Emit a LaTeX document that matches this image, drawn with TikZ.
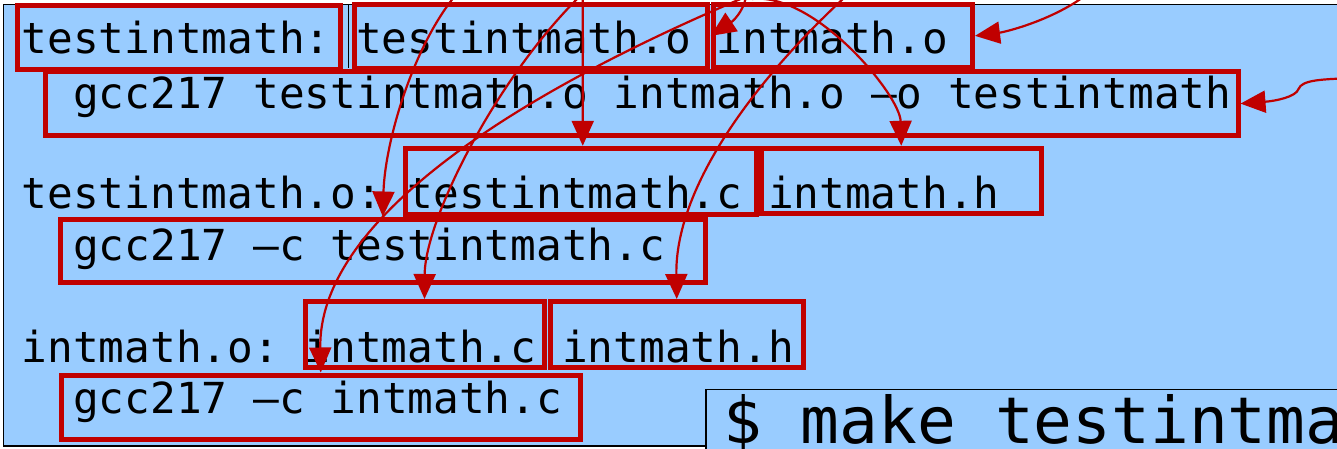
\documentclass[tikz,border=0pt]{standalone}
\usepackage{fontspec}
\newfontfamily\monofont{DejaVu Sans Mono}
\usetikzlibrary{arrows.meta,calc}
\definecolor{slideblue}{RGB}{153,204,255}
\definecolor{boxred}{RGB}{192,0,0}
\frenchspacing
\begin{document}
\begin{tikzpicture}[x=1pt,y=-1pt,
  redbox/.style={draw=boxred, line width=5pt, inner sep=0pt, outer sep=2.5pt},
  codetext/.style={inner sep=0pt, anchor=base west, font=\monofont\fontsize{42.75}{50}\selectfont},
  bigtext/.style={inner sep=0pt, anchor=base west, font=\monofont\fontsize{64.5}{70}\selectfont},
  arr/.style={draw=boxred, line width=2.2pt, -{Triangle[length=25pt,width=22pt]}}]
\useasboundingbox (0,0) rectangle (1337,448);
\fill[white] (0,0) rectangle (1337,448);
\clip (0,0) rectangle (1337,448);
% slide panel
\filldraw[fill=slideblue, draw=black, line width=1.2pt] (3.5,4.5) rectangle (1360,446);
\draw[black, line width=0.8pt] (348.5,5) -- (348.5,68);
% terminal box
\filldraw[fill=slideblue, draw=black, line width=1.2pt] (706,389.3) rectangle (1360,470);
\node[bigtext] (mk) at (723,443) {\$ make testintma};
% makefile text
\node[codetext] (r1) at (21.5,53.5) {testintmath: testintmath.o intmath.o};
\node[codetext] (r2) at (73,108.3) {gcc217 testintmath.o intmath.o –o testintmath};
\node[codetext] (r3) at (21.5,208.3) {testintmath.o: testintmath.c intmath.h};
\node[codetext] (r4) at (73,260) {gcc217 –c testintmath.c};
\node[codetext] (r5) at (21.5,362.7) {intmath.o: intmath.c intmath.h};
\node[codetext] (r6) at (73,413.3) {gcc217 –c intmath.c};
% red boxes
\node[redbox, minimum width=323.3pt, minimum height=63.4pt] (b1) at (179.15,37.5) {};
\node[redbox, minimum width=353.3pt, minimum height=64.6pt] (b2) at (530.85,36.5) {};
\node[redbox, minimum width=259.2pt, minimum height=63.3pt] (b3) at (842.9,35.85) {};
\node[redbox, minimum width=1192.3pt, minimum height=63.8pt] (b4) at (641.85,103.6) {};
\node[redbox, minimum width=351.5pt, minimum height=65.7pt] (b5) at (580.75,181.15) {};
\node[redbox, minimum width=279.5pt, minimum height=64.7pt] (b6) at (901.25,180.65) {};
\node[redbox, minimum width=644.5pt, minimum height=63pt] (b7) at (382.75,250.5) {};
\node[redbox, minimum width=239pt, minimum height=65.5pt] (b8) at (424.5,334.25) {};
\node[redbox, minimum width=252.5pt, minimum height=65.5pt] (b9) at (676.75,334.25) {};
\node[redbox, minimum width=519.5pt, minimum height=64pt] (b10) at (320.75,407) {};
% free ends above the visible region
\coordinate (s1) at (582.7,-10);
\coordinate (s2) at (460,-10);
\coordinate (s3) at (580,-4);
\coordinate (s4) at (845,-3);
\coordinate (s5) at (750,-5);
\coordinate (s6) at (752,-1);
\coordinate (s7) at (1090,-8);
\coordinate (s8) at (1360,78);
\coordinate (s9) at (746,-6);
% connectors
\draw[arr] (s1) -- ([xshift=2pt]b5.north);
\draw[arr] (s2) .. controls (415,40) and (385,140) .. (b7.north);
\draw[arr] (s3) .. controls (495,80) and (425,220) .. (b8.north);
\draw[arr] (s4) .. controls (750,85) and (675,190) .. (b9.north);
\draw[arr] (s5) .. controls (500,100) and (318,225) .. (b10.north);
\draw[arr] (s6) .. controls (815,-8) and (900,95) .. (b6.north);
\draw[arr] (s7) .. controls (1055,20) and (1005,32) .. (b3.east);
\draw[arr] (s8) .. controls (1320,79) and (1302,80) .. (1298.5,89) .. controls (1296,97) and (1275,101) .. (b4.east);
\draw[arr] (s9) .. controls (746,6) and (736,19) .. (b3.west);
\end{tikzpicture}
\end{document}
